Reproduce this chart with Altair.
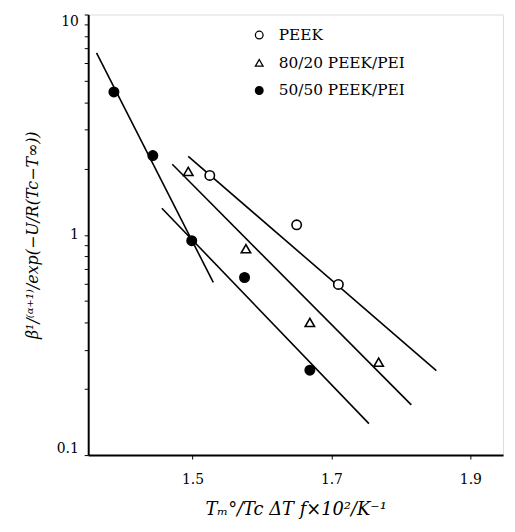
import altair as alt
import pandas as pd

# measured points
peek_x = [1.525, 1.650, 1.710]
peek_y = [1.86, 1.11, 0.595]
b8020_x = [1.494, 1.577, 1.669, 1.768]
b8020_y = [1.94, 0.865, 0.40, 0.264]
b5050_x = [1.387, 1.443, 1.499, 1.575, 1.669]
b5050_y = [4.45, 2.29, 0.94, 0.64, 0.243]

# fitted lines (endpoints)
line_ids = ["PEEK", "80/20", "50/50 low", "50/50 steep"]
line_x1 = [1.494, 1.471, 1.456, 1.362]
line_y1 = [2.27, 2.09, 1.32, 6.69]
line_x2 = [1.851, 1.815, 1.754, 1.530]
line_y2 = [0.242, 0.169, 0.139, 0.608]

series_names = ["PEEK", "80/20 PEEK/PEI", "50/50 PEEK/PEI"]

x_ticks = [1.5, 1.7, 1.9]
y_ticks = [0.1, 0.2, 0.3, 0.4, 0.5, 0.6, 0.7, 0.8, 0.9,
           1, 2, 3, 4, 5, 6, 7, 8, 9, 10]

rows = []
for xs, ys, name in [(peek_x, peek_y, series_names[0]),
                     (b8020_x, b8020_y, series_names[1]),
                     (b5050_x, b5050_y, series_names[2])]:
    for a, b in zip(xs, ys):
        rows.append({"x": a, "y": b, "series": name})
pts = pd.DataFrame(rows)

lrows = []
for i, lid in enumerate(line_ids):
    lrows.append({"x": line_x1[i], "y": line_y1[i], "line": lid, "o": 0})
    lrows.append({"x": line_x2[i], "y": line_y2[i], "line": lid, "o": 1})
lines = pd.DataFrame(lrows)

FONT = "'DejaVu Serif', serif"

xscale = alt.Scale(domain=[1.35, 1.947], nice=False, zero=False)
yscale = alt.Scale(type="log", domain=[0.1, 10], nice=False)

xaxis = alt.Axis(values=x_ticks, format=".1f", grid=False,
                 title="Tₘ°/Tc ΔT f×10²/K⁻¹",
                 titleFont=FONT, titleFontStyle="italic", titleFontWeight="normal",
                 titleFontSize=18, titlePadding=14,
                 labelFont=FONT, labelFontSize=14, labelPadding=14,
                 tickSize=4, tickColor="black", domainColor="black",
                 domainWidth=2, labelColor="black", titleColor="black")
yaxis = alt.Axis(values=y_ticks, format="~g", grid=False, labelFlush=True,
                 labelExpr="(datum.value == 0.1 || datum.value == 1 || datum.value == 10) ? datum.label : ''",
                 title="β¹/⁽ᵅ⁺¹⁾/exp(−U/R(Tc−T∞))",
                 titleFont=FONT, titleFontStyle="italic", titleFontWeight="normal",
                 titleFontSize=16, titlePadding=16,
                 labelFont=FONT, labelFontSize=14, labelPadding=6,
                 tickSize=4, tickColor="black", domainColor="black",
                 domainWidth=2, labelColor="black", titleColor="black")

line_layer = alt.Chart(lines).mark_line(color="black", strokeWidth=1.6).encode(
    x=alt.X("x:Q", scale=xscale, axis=xaxis),
    y=alt.Y("y:Q", scale=yscale, axis=yaxis),
    detail="line:N",
    order="o:Q",
)

leg = alt.Legend(title=None, orient="none", legendX=165, legendY=13,
                 labelFont=FONT, labelFontSize=15.5,
                 labelColor="black", symbolSize=60,
                 symbolStrokeWidth=1.3, labelOffset=12,
                 rowPadding=11)

pt_layer = alt.Chart(pts).mark_point(size=90, strokeWidth=1.6,
                                     opacity=1, filled=False).encode(
    x=alt.X("x:Q", scale=xscale),
    y=alt.Y("y:Q", scale=yscale),
    shape=alt.Shape("series:N",
                    scale=alt.Scale(domain=series_names,
                                    range=["circle", "triangle-up", "circle"]),
                    legend=leg),
    fill=alt.Fill("series:N",
                  scale=alt.Scale(domain=series_names,
                                  range=["white", "white", "black"]),
                  legend=leg),
    stroke=alt.Stroke("series:N",
                      scale=alt.Scale(domain=series_names,
                                      range=["black", "black", "black"]),
                      legend=leg),
)

chart = alt.layer(line_layer, pt_layer).properties(
    width=419, height=445,
    autosize=alt.AutoSizeParams(type="none"),
    padding={"left": 81, "top": 4, "right": 4, "bottom": 64},
).configure_view(stroke="black", strokeWidth=1.5).configure(background="white", font=FONT)

chart.save("out.html", embed_options={"renderer": "svg", "actions": False})
